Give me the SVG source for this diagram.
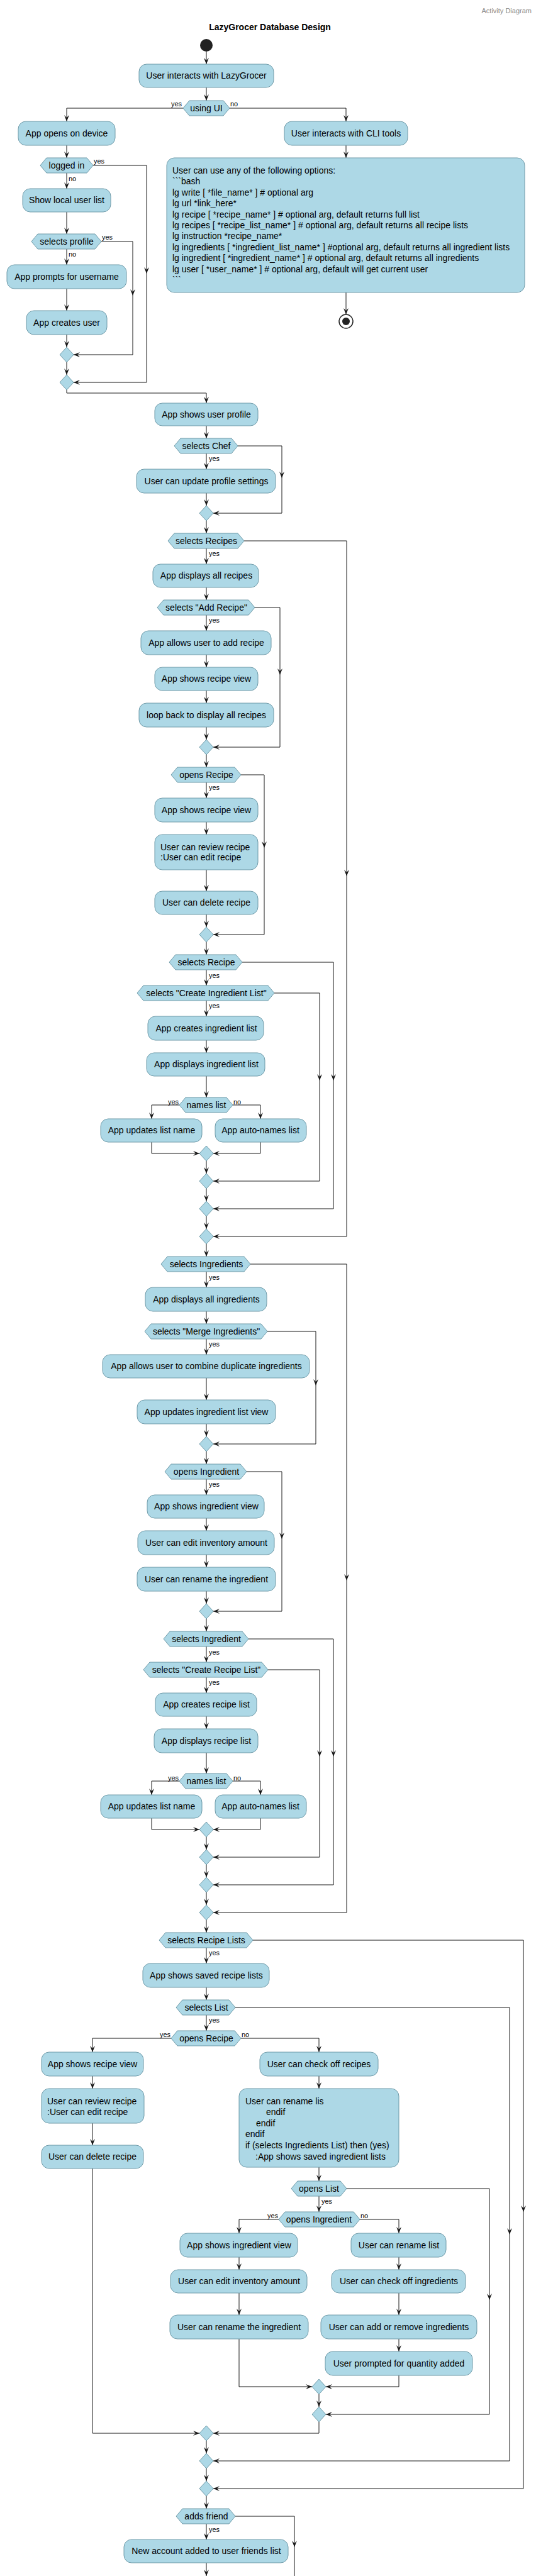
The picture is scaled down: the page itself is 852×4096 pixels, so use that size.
<svg xmlns="http://www.w3.org/2000/svg" width="852" height="4096" viewBox="0 0 852 4096">
<style>
.box{fill:#ADD8E6;stroke:#6F9AA8;stroke-width:1}
.t{font-family:"Liberation Sans",Arial,sans-serif;font-size:14px;fill:#000}
.c{text-anchor:middle}
.l{font-family:"Liberation Sans",Arial,sans-serif;font-size:11px;fill:#000}
.e{text-anchor:end}
.ln{fill:none;stroke:#181818;stroke-width:1}
.a{fill:none;stroke:#181818;stroke-width:1;marker-end:url(#arr)}
</style>
<defs>
<marker id="arr" viewBox="0 0 10 8" refX="10" refY="4" markerWidth="10" markerHeight="8" markerUnits="userSpaceOnUse" orient="auto"><path d="M10,4 L0,0 L4,4 L0,8 Z" fill="#181818"/></marker>
</defs>
<rect width="852" height="4096" fill="#fff"/>
<text x="845" y="21" class="l e" fill="#888" style="fill:#888">Activity Diagram</text>
<text x="429" y="48" class="t c" style="font-weight:bold">LazyGrocer Database Design</text>

<g id="connectors">
<path class="a" d="M328,82 V102"/>
<path class="a" d="M328,139 V160"/>
<path class="a" d="M291,172 H106 V193"/>
<path class="a" d="M365,172 H550 V193"/>
<path class="a" d="M550,231 V251"/>
<path class="a" d="M550,465 V500"/>
<path class="a" d="M106,231 V251"/>
<path class="a" d="M106,275 V300"/>
<path class="a" d="M148,263 H233 V435"/>
<path class="a" d="M233,435 V608 H117"/>
<path class="a" d="M106,337 V372"/>
<path class="a" d="M106,396 V421"/>
<path class="a" d="M161,384 H211 V470"/>
<path class="a" d="M211,470 V564 H117"/>
<path class="a" d="M106,459 V494"/>
<path class="a" d="M106,532 V552"/>
<path class="a" d="M106,576 V596"/>
<path class="a" d="M106,620 V625 H328 V641"/>
<path class="a" d="M328,677 V697"/>
<path class="a" d="M328,721 V746"/>
<path class="a" d="M378,709 H448 V760"/>
<path class="a" d="M448,760 V816 H339"/>
<path class="a" d="M328,784 V804"/>
<path class="a" d="M328,828 V848"/>
<path class="a" d="M328,872 V897"/>
<path class="a" d="M388,860 H551 V1393"/>
<path class="a" d="M551,1393 V1966 H339"/>
<path class="a" d="M328,934 V954"/>
<path class="a" d="M328,978 V1003"/>
<path class="a" d="M405,966 H445 V1073"/>
<path class="a" d="M445,1073 V1188 H339"/>
<path class="a" d="M328,1041 V1061"/>
<path class="a" d="M328,1098 V1118"/>
<path class="a" d="M328,1156 V1176"/>
<path class="a" d="M328,1200 V1220"/>
<path class="a" d="M328,1244 V1269"/>
<path class="a" d="M383,1232 H420 V1348"/>
<path class="a" d="M420,1348 V1486 H339"/>
<path class="a" d="M328,1307 V1327"/>
<path class="a" d="M328,1383 V1417"/>
<path class="a" d="M328,1454 V1474"/>
<path class="a" d="M328,1498 V1518"/>
<path class="a" d="M328,1542 V1567"/>
<path class="a" d="M385,1530 H530 V1718"/>
<path class="a" d="M530,1718 V1922 H339"/>
<path class="a" d="M328,1591 V1616"/>
<path class="a" d="M436,1579 H508 V1718"/>
<path class="a" d="M508,1718 V1878 H339"/>
<path class="a" d="M328,1654 V1674"/>
<path class="a" d="M328,1711 V1745"/>
<path class="a" d="M285,1757 H241 V1779"/>
<path class="a" d="M370,1757 H414 V1779"/>
<path class="a" d="M241,1816 V1834 H317"/>
<path class="a" d="M414,1816 V1834 H339"/>
<path class="a" d="M328,1846 V1866"/>
<path class="a" d="M328,1890 V1910"/>
<path class="a" d="M328,1934 V1954"/>
<path class="a" d="M328,1978 V1998"/>
<path class="a" d="M328,2022 V2047"/>
<path class="a" d="M398,2010 H551 V2513"/>
<path class="a" d="M551,2513 V3041 H339"/>
<path class="a" d="M328,2085 V2105"/>
<path class="a" d="M328,2129 V2154"/>
<path class="a" d="M425,2117 H502 V2203"/>
<path class="a" d="M502,2203 V2296 H339"/>
<path class="a" d="M328,2191 V2226"/>
<path class="a" d="M328,2264 V2284"/>
<path class="a" d="M328,2308 V2328"/>
<path class="a" d="M328,2352 V2377"/>
<path class="a" d="M392,2340 H448 V2447"/>
<path class="a" d="M448,2447 V2562 H339"/>
<path class="a" d="M328,2414 V2434"/>
<path class="a" d="M328,2472 V2492"/>
<path class="a" d="M328,2530 V2550"/>
<path class="a" d="M328,2574 V2594"/>
<path class="a" d="M328,2618 V2643"/>
<path class="a" d="M395,2606 H530 V2793"/>
<path class="a" d="M530,2793 V2997 H339"/>
<path class="a" d="M328,2667 V2692"/>
<path class="a" d="M426,2655 H508 V2793"/>
<path class="a" d="M508,2793 V2953 H339"/>
<path class="a" d="M328,2729 V2749"/>
<path class="a" d="M328,2787 V2820"/>
<path class="a" d="M285,2832 H241 V2854"/>
<path class="a" d="M370,2832 H414 V2854"/>
<path class="a" d="M241,2891 V2909 H317"/>
<path class="a" d="M414,2891 V2909 H339"/>
<path class="a" d="M328,2921 V2941"/>
<path class="a" d="M328,2965 V2985"/>
<path class="a" d="M328,3009 V3029"/>
<path class="a" d="M328,3053 V3073"/>
<path class="a" d="M328,3097 V3122"/>
<path class="a" d="M402,3085 H832 V3517"/>
<path class="a" d="M832,3517 V3957 H339"/>
<path class="a" d="M328,3160 V3180"/>
<path class="a" d="M328,3204 V3229"/>
<path class="a" d="M374,3192 H810 V3553"/>
<path class="a" d="M810,3553 V3913 H339"/>
<path class="a" d="M272,3241 H147 V3263"/>
<path class="a" d="M383,3241 H507 V3263"/>
<path class="a" d="M147,3301 V3321"/>
<path class="a" d="M507,3301 V3321"/>
<path class="a" d="M147,3376 V3411"/>
<path class="a" d="M147,3448 V3869 H317"/>
<path class="a" d="M507,3446 V3468"/>
<path class="a" d="M507,3492 V3517"/>
<path class="a" d="M551,3480 H778 V3657"/>
<path class="a" d="M778,3657 V3839 H518"/>
<path class="a" d="M443,3529 H380 V3551"/>
<path class="a" d="M572,3529 H634 V3551"/>
<path class="a" d="M380,3589 V3609"/>
<path class="a" d="M634,3589 V3609"/>
<path class="a" d="M380,3646 V3681"/>
<path class="a" d="M634,3646 V3681"/>
<path class="a" d="M380,3719 V3795 H496"/>
<path class="a" d="M634,3719 V3739"/>
<path class="a" d="M634,3777 V3795 H518"/>
<path class="a" d="M507,3807 V3827"/>
<path class="a" d="M507,3851 V3869 H339"/>
<path class="a" d="M328,3881 V3901"/>
<path class="a" d="M328,3925 V3945"/>
<path class="a" d="M328,3969 V3989"/>
<path class="a" d="M328,4013 V4038"/>
<path class="a" d="M374,4001 H468 V4050"/>
<path class="ln" d="M468,4050 V4096"/>
<path class="a" d="M328,4075 V4096"/>
</g>

<g id="edge-labels">
<text x="289" y="169" class="l e">yes</text>
<text x="366" y="169" class="l">no</text>
<text x="149" y="260" class="l">yes</text>
<text x="109" y="288" class="l">no</text>
<text x="162" y="381" class="l">yes</text>
<text x="109" y="408" class="l">no</text>
<text x="332" y="733" class="l">yes</text>
<text x="332" y="884" class="l">yes</text>
<text x="332" y="990" class="l">yes</text>
<text x="332" y="1256" class="l">yes</text>
<text x="332" y="1555" class="l">yes</text>
<text x="332" y="1603" class="l">yes</text>
<text x="284" y="1756" class="l e">yes</text>
<text x="371" y="1756" class="l">no</text>
<text x="332" y="2035" class="l">yes</text>
<text x="332" y="2141" class="l">yes</text>
<text x="332" y="2364" class="l">yes</text>
<text x="332" y="2631" class="l">yes</text>
<text x="332" y="2679" class="l">yes</text>
<text x="284" y="2831" class="l e">yes</text>
<text x="371" y="2831" class="l">no</text>
<text x="332" y="3109" class="l">yes</text>
<text x="332" y="3216" class="l">yes</text>
<text x="271" y="3239" class="l e">yes</text>
<text x="384" y="3239" class="l">no</text>
<text x="511" y="3504" class="l">yes</text>
<text x="442" y="3527" class="l e">yes</text>
<text x="573" y="3527" class="l">no</text>
<text x="332" y="4026" class="l">yes</text>
</g>

<g id="start"><circle cx="328" cy="72" r="10" fill="#222"/></g>
<g id="n-interact"><rect class="box" x="221" y="102" width="214" height="37" rx="12"/><text x="328" y="125" class="t c">User interacts with LazyGrocer</text></g>
<g id="d-using-ui"><polygon class="box" points="291,172 301,160 355,160 365,172 355,184 301,184"/><text x="328" y="177" class="t c">using UI</text></g>
<g id="n-app-opens"><rect class="box" x="29" y="193" width="154" height="38" rx="12"/><text x="106" y="217" class="t c">App opens on device</text></g>
<g id="n-cli"><rect class="box" x="452" y="193" width="196" height="38" rx="12"/><text x="550" y="217" class="t c">User interacts with CLI tools</text></g>
<g id="n-cli-options"><rect class="box" x="265" y="251" width="569" height="214" rx="12"/>
<text class="t"><tspan x="274" y="276">User can use any of the following options:</tspan><tspan x="274" y="293.4">```bash</tspan><tspan x="274" y="310.8">lg write [ *file_name* ] # optional arg</tspan><tspan x="274" y="328.2">lg url *link_here*</tspan><tspan x="274" y="345.6">lg recipe [ *recipe_name* ] # optional arg, default returns full list</tspan><tspan x="274" y="363">lg recipes [ *recipe_list_name* ] # optional arg, default returns all recipe lists</tspan><tspan x="274" y="380.4">lg instruction *recipe_name*</tspan><tspan x="274" y="397.8">lg ingredients [ *ingredient_list_name* ] #optional arg, default returns all ingredient lists</tspan><tspan x="274" y="415.2">lg ingredient [ *ingredient_name* ] # optional arg, default returns all ingredients</tspan><tspan x="274" y="432.6">lg user [ *user_name* ] # optional arg, default will get current user</tspan><tspan x="274" y="450">```</tspan></text></g>
<g id="end"><circle cx="550" cy="511" r="11" fill="#fff" stroke="#222" stroke-width="1.5"/><circle cx="550" cy="511" r="6" fill="#222"/></g>
<g id="d-logged-in"><polygon class="box" points="64,263 74,251 138,251 148,263 138,275 74,275"/><text x="106" y="268" class="t c">logged in</text></g>
<g id="n-show-local"><rect class="box" x="36" y="300" width="140" height="37" rx="12"/><text x="106" y="323" class="t c">Show local user list</text></g>
<g id="d-selects-profile"><polygon class="box" points="50,384 60,372 151,372 161,384 151,396 60,396"/><text x="106" y="389" class="t c">selects profile</text></g>
<g id="n-prompts"><rect class="box" x="11" y="421" width="190" height="38" rx="12"/><text x="106" y="445" class="t c">App prompts for username</text></g>
<g id="n-creates-user"><rect class="box" x="42" y="494" width="128" height="38" rx="12"/><text x="106" y="518" class="t c">App creates user</text></g>
<g id="m1"><polygon class="box" points="106,552 117,564 106,576 95,564"/></g>
<g id="m2"><polygon class="box" points="106,596 117,608 106,620 95,608"/></g>
<g id="n-user-profile"><rect class="box" x="246" y="641" width="164" height="36" rx="12"/><text x="328" y="664" class="t c">App shows user profile</text></g>
<g id="d-chef"><polygon class="box" points="277,709 287,697 368,697 378,709 368,721 287,721"/><text x="328" y="714" class="t c">selects Chef</text></g>
<g id="n-update-profile"><rect class="box" x="217" y="746" width="221" height="38" rx="12"/><text x="328" y="770" class="t c">User can update profile settings</text></g>
<g id="m3"><polygon class="box" points="328,804 339,816 328,828 317,816"/></g>
<g id="d-recipes"><polygon class="box" points="267,860 277,848 378,848 388,860 378,872 277,872"/><text x="328" y="865" class="t c">selects Recipes</text></g>
<g id="n-display-recipes"><rect class="box" x="243" y="897" width="168" height="37" rx="12"/><text x="328" y="920" class="t c">App displays all recipes</text></g>
<g id="d-add-recipe"><polygon class="box" points="250,966 260,954 395,954 405,966 395,978 260,978"/><text x="328" y="971" class="t c">selects "Add Recipe"</text></g>
<g id="n-add-recipe"><rect class="box" x="224" y="1003" width="207" height="38" rx="12"/><text x="328" y="1027" class="t c">App allows user to add recipe</text></g>
<g id="n-recipe-view"><rect class="box" x="246" y="1061" width="164" height="37" rx="12"/><text x="328" y="1084" class="t c">App shows recipe view</text></g>
<g id="n-loop-back"><rect class="box" x="221" y="1118" width="214" height="38" rx="12"/><text x="328" y="1142" class="t c">loop back to display all recipes</text></g>
<g id="m4"><polygon class="box" points="328,1176 339,1188 328,1200 317,1188"/></g>
<g id="d-opens-recipe"><polygon class="box" points="272,1232 282,1220 373,1220 383,1232 373,1244 282,1244"/><text x="328" y="1237" class="t c">opens Recipe</text></g>
<g id="n-recipe-view-2"><rect class="box" x="246" y="1269" width="164" height="38" rx="12"/><text x="328" y="1293" class="t c">App shows recipe view</text></g>
<g id="n-review"><rect class="box" x="246" y="1327" width="164" height="56" rx="12"/><text class="t"><tspan x="255" y="1352">User can review recipe</tspan><tspan x="255" y="1368">:User can edit recipe</tspan></text></g>
<g id="n-delete"><rect class="box" x="246" y="1417" width="164" height="37" rx="12"/><text x="328" y="1440" class="t c">User can delete recipe</text></g>
<g id="m5"><polygon class="box" points="328,1474 339,1486 328,1498 317,1486"/></g>
<g id="d-selects-recipe"><polygon class="box" points="269,1530 279,1518 375,1518 385,1530 375,1542 279,1542"/><text x="328" y="1535" class="t c">selects Recipe</text></g>
<g id="d-create-ing-list"><polygon class="box" points="218,1579 228,1567 426,1567 436,1579 426,1591 228,1591"/><text x="328" y="1584" class="t c">selects "Create Ingredient List"</text></g>
<g id="n-create-ing-list"><rect class="box" x="235" y="1616" width="184" height="38" rx="12"/><text x="328" y="1640" class="t c">App creates ingredient list</text></g>
<g id="n-display-ing-list"><rect class="box" x="233" y="1674" width="188" height="37" rx="12"/><text x="328" y="1697" class="t c">App displays ingredient list</text></g>
<g id="d-names-1"><polygon class="box" points="285,1757 295,1745 360,1745 370,1757 360,1769 295,1769"/><text x="328" y="1762" class="t c">names list</text></g>
<g id="n-upd-name-1"><rect class="box" x="160" y="1779" width="161" height="37" rx="12"/><text x="241" y="1802" class="t c">App updates list name</text></g>
<g id="n-auto-name-1"><rect class="box" x="342" y="1779" width="145" height="37" rx="12"/><text x="414" y="1802" class="t c">App auto-names list</text></g>
<g id="m6"><polygon class="box" points="328,1822 339,1834 328,1846 317,1834"/></g>
<g id="m7"><polygon class="box" points="328,1866 339,1878 328,1890 317,1878"/></g>
<g id="m8"><polygon class="box" points="328,1910 339,1922 328,1934 317,1922"/></g>
<g id="m9"><polygon class="box" points="328,1954 339,1966 328,1978 317,1966"/></g>
<g id="d-selects-ingredients"><polygon class="box" points="256,2010 266,1998 388,1998 398,2010 388,2022 266,2022"/><text x="328" y="2015" class="t c">selects Ingredients</text></g>
<g id="n-display-ings"><rect class="box" x="231" y="2047" width="193" height="38" rx="12"/><text x="328" y="2071" class="t c">App displays all ingredients</text></g>
<g id="d-merge"><polygon class="box" points="230,2117 240,2105 415,2105 425,2117 415,2129 240,2129"/><text x="328" y="2122" class="t c">selects "Merge Ingredients"</text></g>
<g id="n-combine"><rect class="box" x="163" y="2154" width="329" height="37" rx="12"/><text x="328" y="2177" class="t c">App allows user to combine duplicate ingredients</text></g>
<g id="n-upd-ing-view"><rect class="box" x="218" y="2226" width="220" height="38" rx="12"/><text x="328" y="2250" class="t c">App updates ingredient list view</text></g>
<g id="m10"><polygon class="box" points="328,2284 339,2296 328,2308 317,2296"/></g>
<g id="d-opens-ingredient"><polygon class="box" points="262,2340 272,2328 382,2328 392,2340 382,2352 272,2352"/><text x="328" y="2345" class="t c">opens Ingredient</text></g>
<g id="n-ing-view"><rect class="box" x="234" y="2377" width="186" height="37" rx="12"/><text x="328" y="2400" class="t c">App shows ingredient view</text></g>
<g id="n-edit-inv"><rect class="box" x="219" y="2434" width="217" height="38" rx="12"/><text x="328" y="2458" class="t c">User can edit inventory amount</text></g>
<g id="n-rename-ing"><rect class="box" x="218" y="2492" width="220" height="38" rx="12"/><text x="328" y="2516" class="t c">User can rename the ingredient</text></g>
<g id="m11"><polygon class="box" points="328,2550 339,2562 328,2574 317,2562"/></g>
<g id="d-selects-ingredient"><polygon class="box" points="260,2606 270,2594 385,2594 395,2606 385,2618 270,2618"/><text x="328" y="2611" class="t c">selects Ingredient</text></g>
<g id="d-create-recipe-list"><polygon class="box" points="228,2655 238,2643 416,2643 426,2655 416,2667 238,2667"/><text x="328" y="2660" class="t c">selects "Create Recipe List"</text></g>
<g id="n-create-rec-list"><rect class="box" x="247" y="2692" width="161" height="37" rx="12"/><text x="328" y="2715" class="t c">App creates recipe list</text></g>
<g id="n-display-rec-list"><rect class="box" x="245" y="2749" width="165" height="38" rx="12"/><text x="328" y="2773" class="t c">App displays recipe list</text></g>
<g id="d-names-2"><polygon class="box" points="285,2832 295,2820 360,2820 370,2832 360,2844 295,2844"/><text x="328" y="2837" class="t c">names list</text></g>
<g id="n-upd-name-2"><rect class="box" x="160" y="2854" width="161" height="37" rx="12"/><text x="241" y="2877" class="t c">App updates list name</text></g>
<g id="n-auto-name-2"><rect class="box" x="342" y="2854" width="145" height="37" rx="12"/><text x="414" y="2877" class="t c">App auto-names list</text></g>
<g id="m12"><polygon class="box" points="328,2897 339,2909 328,2921 317,2909"/></g>
<g id="m13"><polygon class="box" points="328,2941 339,2953 328,2965 317,2953"/></g>
<g id="m14"><polygon class="box" points="328,2985 339,2997 328,3009 317,2997"/></g>
<g id="m15"><polygon class="box" points="328,3029 339,3041 328,3053 317,3041"/></g>
<g id="d-recipe-lists"><polygon class="box" points="253,3085 263,3073 392,3073 402,3085 392,3097 263,3097"/><text x="328" y="3090" class="t c">selects Recipe Lists</text></g>
<g id="n-saved-rec-lists"><rect class="box" x="227" y="3122" width="201" height="38" rx="12"/><text x="328" y="3146" class="t c">App shows saved recipe lists</text></g>
<g id="d-selects-list"><polygon class="box" points="280,3192 290,3180 364,3180 374,3192 364,3204 290,3204"/><text x="328" y="3197" class="t c">selects List</text></g>
<g id="d-opens-recipe-2"><polygon class="box" points="272,3241 282,3229 373,3229 383,3241 373,3253 282,3253"/><text x="328" y="3246" class="t c">opens Recipe</text></g>
<g id="n-recipe-view-3"><rect class="box" x="66" y="3263" width="162" height="38" rx="12"/><text x="147" y="3287" class="t c">App shows recipe view</text></g>
<g id="n-check-recipes"><rect class="box" x="413" y="3263" width="188" height="38" rx="12"/><text x="507" y="3287" class="t c">User can check off recipes</text></g>
<g id="n-review-2"><rect class="box" x="66" y="3321" width="163" height="55" rx="12"/><text class="t"><tspan x="75" y="3346">User can review recipe</tspan><tspan x="75" y="3363">:User can edit recipe</tspan></text></g>
<g id="n-delete-2"><rect class="box" x="66" y="3411" width="162" height="37" rx="12"/><text x="147" y="3434" class="t c">User can delete recipe</text></g>
<g id="n-rename-lis"><rect class="box" x="380" y="3321" width="254" height="125" rx="12"/><text class="t"><tspan x="390" y="3346">User can rename lis</tspan><tspan x="423" y="3363">endif</tspan><tspan x="407" y="3381">endif</tspan><tspan x="390" y="3398">endif</tspan><tspan x="390" y="3416">if (selects Ingredients List) then (yes)</tspan><tspan x="406" y="3434">:App shows saved ingredient lists</tspan></text></g>
<g id="d-opens-list"><polygon class="box" points="463,3480 473,3468 541,3468 551,3480 541,3492 473,3492"/><text x="507" y="3485" class="t c">opens List</text></g>
<g id="d-opens-ingredient-2"><polygon class="box" points="443,3529 453,3517 562,3517 572,3529 562,3541 453,3541"/><text x="507" y="3534" class="t c">opens Ingredient</text></g>
<g id="n-ing-view-2"><rect class="box" x="286" y="3551" width="187" height="38" rx="12"/><text x="380" y="3575" class="t c">App shows ingredient view</text></g>
<g id="n-rename-list"><rect class="box" x="558" y="3551" width="151" height="38" rx="12"/><text x="634" y="3575" class="t c">User can rename list</text></g>
<g id="n-edit-inv-2"><rect class="box" x="271" y="3609" width="217" height="37" rx="12"/><text x="380" y="3632" class="t c">User can edit inventory amount</text></g>
<g id="n-check-ings"><rect class="box" x="527" y="3609" width="213" height="37" rx="12"/><text x="634" y="3632" class="t c">User can check off ingredients</text></g>
<g id="n-rename-ing-2"><rect class="box" x="270" y="3681" width="220" height="38" rx="12"/><text x="380" y="3705" class="t c">User can rename the ingredient</text></g>
<g id="n-add-remove"><rect class="box" x="510" y="3681" width="248" height="38" rx="12"/><text x="634" y="3705" class="t c">User can add or remove ingredients</text></g>
<g id="n-quantity"><rect class="box" x="517" y="3739" width="234" height="38" rx="12"/><text x="634" y="3763" class="t c">User prompted for quantity added</text></g>
<g id="m16"><polygon class="box" points="507,3783 518,3795 507,3807 496,3795"/></g>
<g id="m17"><polygon class="box" points="507,3827 518,3839 507,3851 496,3839"/></g>
<g id="m18"><polygon class="box" points="328,3857 339,3869 328,3881 317,3869"/></g>
<g id="m19"><polygon class="box" points="328,3901 339,3913 328,3925 317,3913"/></g>
<g id="m20"><polygon class="box" points="328,3945 339,3957 328,3969 317,3957"/></g>
<g id="d-adds-friend"><polygon class="box" points="280,4001 290,3989 364,3989 374,4001 364,4013 290,4013"/><text x="328" y="4006" class="t c">adds friend</text></g>
<g id="n-new-friend"><rect class="box" x="197" y="4038" width="261" height="37" rx="12"/><text x="328" y="4061" class="t c">New account added to user friends list</text></g>
</svg>
